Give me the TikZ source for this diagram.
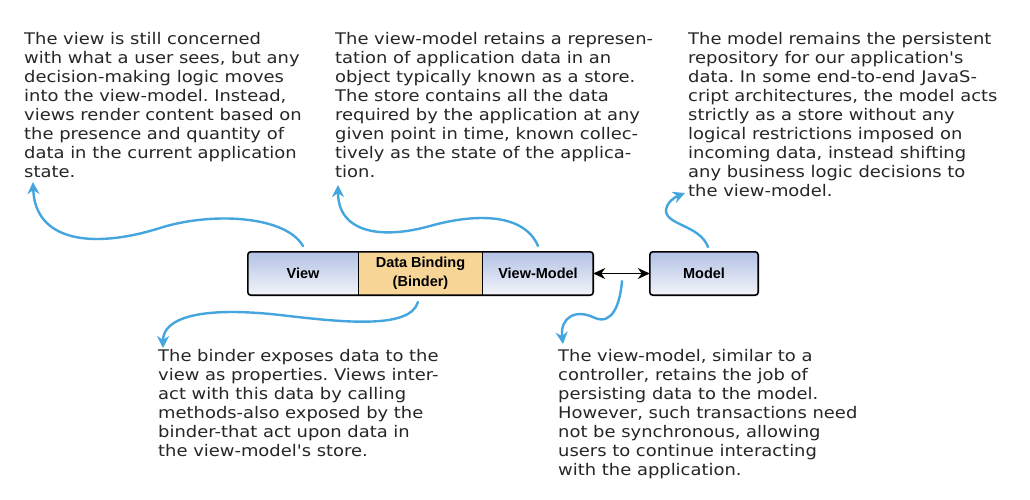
\documentclass[tikz,border=0pt]{standalone}
\usepackage{fontspec}
\setmainfont{DejaVu Sans}
\newfontfamily\handfont[FakeStretch=1.12]{DejaVu Sans}
\newfontfamily\boxfont{Liberation Sans}
\usetikzlibrary{arrows.meta,backgrounds}
\frenchspacing
\definecolor{txt}{HTML}{262626}
\definecolor{arrowblue}{HTML}{45A6DF}
\definecolor{boxtop}{HTML}{B3C2E4}
\definecolor{boxbot}{HTML}{F2F4FA}
\definecolor{bindfill}{HTML}{F6D597}
\definecolor{shadowc}{HTML}{8A8A8A}
\tikzset{
  note/.style={anchor=north west, inner sep=0pt, align=left, text=txt,
    font=\handfont\fontsize{16}{19}\selectfont},
  comp/.style={minimum height=43pt, inner sep=0pt, align=center,
    font=\boxfont\bfseries\fontsize{14.5}{19}\selectfont},
  bluebox/.style={comp, top color=boxtop, bottom color=boxbot},
  callout/.style={draw=arrowblue, line width=2.4pt, line cap=round,
    -{Stealth[length=12pt,width=12pt]}},
  outline/.style={draw=black, line width=1.6pt, rounded corners=3pt}
}
\begin{document}
\begin{tikzpicture}[x=1pt,y=-1pt]
\useasboundingbox[fill=white] (0,0) rectangle (1030,500);

% components
\node[bluebox, minimum width=110pt] (view) at (303,273.5) {View};
\node[comp, fill=bindfill, minimum width=125pt] (bind) at (420.5,273.5) {Data Binding\\(Binder)};
\node[bluebox, minimum width=110pt] (vm) at (538,273.5) {View-Model};
\node[bluebox, minimum width=108pt] (model) at (704,273.5) {Model};

\begin{scope}[on background layer]
  \fill[shadowc, rounded corners=3pt] ([shift={(3,3)}]view.north west) rectangle ([shift={(3,3)}]vm.south east);
  \fill[shadowc, rounded corners=3pt] ([shift={(3,3)}]model.north west) rectangle ([shift={(3,3)}]model.south east);
\end{scope}
\draw[outline] (view.north west) rectangle (vm.south east);
\draw[outline] (model.north west) rectangle (model.south east);
\draw[black, line width=1.3pt] (view.north east) -- (view.south east);
\draw[black, line width=1.3pt] (vm.north west) -- (vm.south west);

\draw[black, line width=1.4pt, {Stealth[length=12pt,width=11pt]}-{Stealth[length=12pt,width=11pt]}]
  (vm.east) -- (model.west);

% notes
\node[note] (n1) at (24,32) {The view is still concerned\\with what a user sees, but any\\decision-making logic moves\\into the view-model. Instead,\\views render content based on\\the presence and quantity of\\data in the current application\\state.};
\node[note] (n2) at (335,32) {The view-model retains a represen-\\tation of application data in an\\object typically known as a store.\\The store contains all the data\\required by the application at any\\given point in time, known collec-\\tively as the state of the applica-\\tion.};
\node[note] (n3) at (688,32) {The model remains the persistent\\repository for our application's\\data. In some end-to-end JavaS-\\cript architectures, the model acts\\strictly as a store without any\\logical restrictions imposed on\\incoming data, instead shifting\\any business logic decisions to\\the view-model.};
\node[note] (n4) at (158,349) {The binder exposes data to the\\view as properties. Views inter-\\act with this data by calling\\methods-also exposed by the\\binder-that act upon data in\\the view-model's store.};
\node[note] (n5) at (558,349) {The view-model, similar to a\\controller, retains the job of\\persisting data to the model.\\However, such transactions need\\not be synchronous, allowing\\users to continue interacting\\with the application.};

% callout arrows
\coordinate (a1s) at (303,246);
\coordinate (a1e) at (33,182);
\draw[callout] (a1s) .. controls (285,215) and (210,212) .. (160,228)
  .. controls (90,250) and (35,240) .. (a1e);

\coordinate (a2s) at (538,246);
\coordinate (a2e) at (338,185);
\draw[callout] (a2s) .. controls (525,215) and (480,212) .. (430,226)
  .. controls (380,240) and (338,232) .. (a2e);

\coordinate (a3s) at (708,247);
\coordinate (a3e) at (685,193);
\draw[callout] (a3s) .. controls (700,225) and (665,225) .. (666,210)
  .. controls (667,202) and (675,197) .. (a3e);

\coordinate (a4s) at (418,302);
\coordinate (a4e) at (163,348);
\draw[callout] (a4s) .. controls (410,330) and (340,322) .. (280,315)
  .. controls (200,306) and (163,318) .. (a4e);

\coordinate (a5s) at (622,281);
\coordinate (a5e) at (563,344);
\draw[callout] (a5s) .. controls (620,305) and (612,325) .. (595,318)
  .. controls (575,308) and (560,318) .. (a5e);
\end{tikzpicture}
\end{document}
